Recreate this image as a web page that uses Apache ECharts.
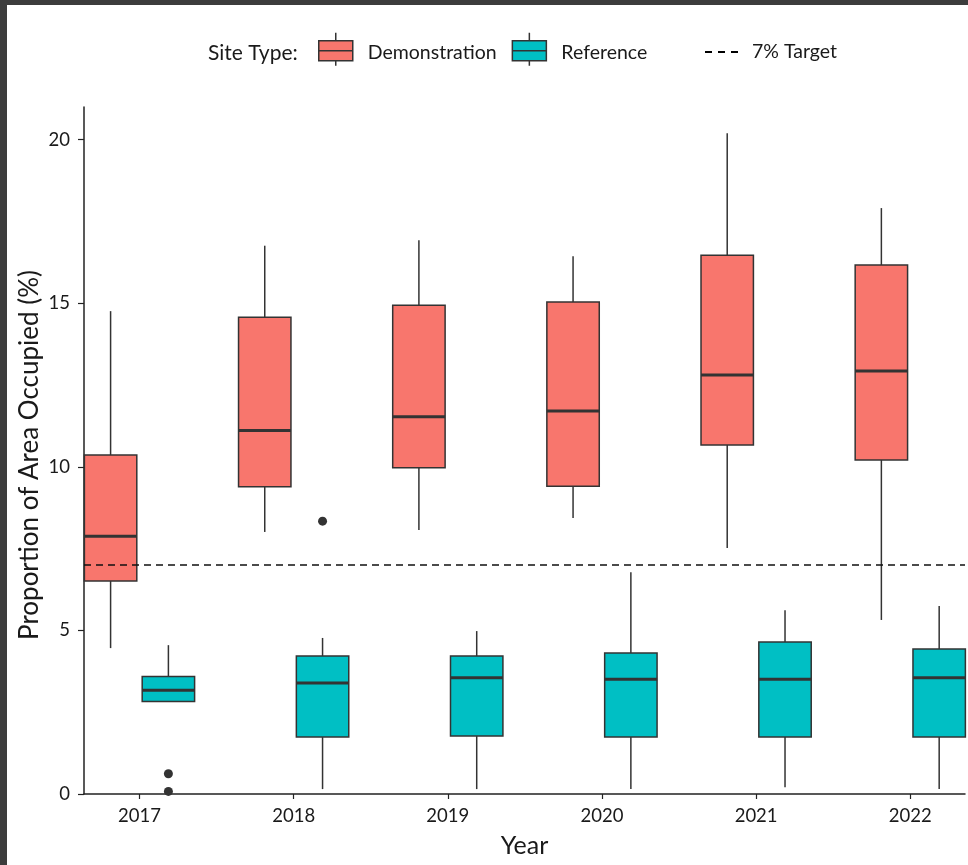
<!DOCTYPE html>
<html>
<head>
<meta charset="utf-8">
<script src="https://cdn.jsdelivr.net/npm/echarts@6/dist/echarts.min.js"></script>
<style>
  html, body { margin: 0; padding: 0; background: #ffffff; }
  #chart { width: 968px; height: 865px; }
</style>
</head>
<body>
<div id="chart"></div>
<script>
// Survey years (x axis categories)
const years = [2017, 2018, 2019, 2020, 2021, 2022];

// Box summaries per year: [lower whisker, Q1, median, Q3, upper whisker]
const demoLow    = [4.46, 8.01, 8.07, 8.44, 7.52, 5.32];
const demoQ1     = [6.51, 9.39, 9.97, 9.41, 10.67, 10.21];
const demoMedian = [7.88, 11.11, 11.53, 11.71, 12.81, 12.93];
const demoQ3     = [10.36, 14.57, 14.94, 15.04, 16.47, 16.17];
const demoHigh   = [14.76, 16.76, 16.93, 16.44, 20.20, 17.91];

const refLow    = [2.83, 0.15, 0.15, 0.15, 0.21, 0.15];
const refQ1     = [2.83, 1.74, 1.77, 1.74, 1.74, 1.74];
const refMedian = [3.17, 3.39, 3.55, 3.51, 3.51, 3.55];
const refQ3     = [3.59, 4.22, 4.22, 4.31, 4.65, 4.43];
const refHigh   = [4.55, 4.77, 4.98, 6.78, 5.62, 5.75];

// Outlying observations: [year, value]
const demoOutliers = [];
const refOutliers = [[2017, 0.62], [2017, 0.08], [2018, 8.34]];

// Target threshold (%)
const target = 7;

// Y axis tick labels
const yTicks = [0, 5, 10, 15, 20];

const DEMO_COLOR = '#F8766D';
const REF_COLOR = '#00BFC4';
const INK = '#333333';
const TEXT = '#1a1a1a';
const FONT = 'Lato, "Open Sans", sans-serif';
const DODGE = 0.1875;   // horizontal shift of each group from the year, in axis units
const BOX_W = 0.34;     // box width, in axis units

function buildRows(lo, q1, md, q3, hi) {
  return years.map((y, i) => [y, lo[i], q1[i], md[i], q3[i], hi[i]]);
}

function boxRenderer(offset, fill) {
  return function (params, api) {
    const x = api.value(0) + offset;
    const lo = api.coord([x, api.value(1)]);
    const q1 = api.coord([x, api.value(2)]);
    const md = api.coord([x, api.value(3)]);
    const q3 = api.coord([x, api.value(4)]);
    const hi = api.coord([x, api.value(5)]);
    const w = api.size([BOX_W, 0])[0];
    const cx = q1[0];
    const lineStyle = { stroke: INK, lineWidth: 1.5 };
    return {
      type: 'group',
      children: [
        { type: 'line', shape: { x1: cx, y1: hi[1], x2: cx, y2: q3[1] }, style: lineStyle },
        { type: 'line', shape: { x1: cx, y1: q1[1], x2: cx, y2: lo[1] }, style: lineStyle },
        { type: 'rect', shape: { x: cx - w / 2, y: q3[1], width: w, height: q1[1] - q3[1] },
          style: { fill: fill, stroke: INK, lineWidth: 1.5 } },
        { type: 'line', shape: { x1: cx - w / 2, y1: md[1], x2: cx + w / 2, y2: md[1] },
          style: { stroke: INK, lineWidth: 3 } }
      ]
    };
  };
}

function outlierRenderer(offset) {
  return function (params, api) {
    const p = api.coord([api.value(0) + offset, api.value(1)]);
    return { type: 'circle', shape: { cx: p[0], cy: p[1], r: 4.5 }, style: { fill: INK } };
  };
}

// Legend key glyph: whiskers, box and median; the trailing move-to pads the
// glyph's bounds downward so the label sits slightly below the key's centre.
const boxIcon = 'path://M17,0V8M0,8H34V28H0ZM0,18H34M17,28V33M17,39';
const dashIcon = 'path://M0,0H7V2H0ZM13,0H20V2H13ZM26,0H33V2H26Z';

const chart = echarts.init(document.getElementById('chart'), null, { renderer: 'canvas' });

chart.setOption({
  backgroundColor: '#ffffff',
  animation: false,
  textStyle: { fontFamily: FONT },
  graphic: [
    { type: 'rect', shape: { x: 0, y: 0, width: 968, height: 5 }, style: { fill: '#3c3c3c' }, z: 100 },
    { type: 'rect', shape: { x: 0, y: 0, width: 7, height: 865 }, style: { fill: '#3c3c3c' }, z: 100 },
    { type: 'text', x: 208, y: 53,
      style: { text: 'Site Type:', fontSize: 21, fontFamily: FONT, fill: TEXT, verticalAlign: 'middle' } },
    { type: 'text', x: 30, y: 455, rotation: Math.PI / 2,
      style: { text: 'Proportion of Area Occupied (%)', fontSize: 26, fontFamily: FONT, fill: TEXT,
               align: 'center', verticalAlign: 'middle' } }
  ],
  legend: [
    {
      left: 318, top: 32, padding: 0,
      itemWidth: 34, itemHeight: 39, itemGap: 15,
      textStyle: { fontSize: 19.5, color: TEXT, fontFamily: FONT, padding: [0, 0, 0, 10] },
      data: [
        { name: 'Demonstration', icon: boxIcon, itemStyle: { color: DEMO_COLOR, borderColor: INK, borderWidth: 1.5 } },
        { name: 'Reference', icon: boxIcon, itemStyle: { color: REF_COLOR, borderColor: INK, borderWidth: 1.5 } }
      ],
      selectedMode: false
    },
    {
      left: 705, top: 42, padding: 0,
      itemWidth: 33, itemHeight: 2,
      textStyle: { fontSize: 19.5, color: TEXT, fontFamily: FONT, padding: [0, 0, 0, 9] },
      data: [
        { name: '7% Target', icon: dashIcon, itemStyle: { color: '#000000', borderWidth: 0 } }
      ],
      selectedMode: false
    }
  ],
  grid: { left: 84, right: 3, top: 107, bottom: 71, containLabel: false },
  xAxis: {
    type: 'value',
    min: years[0] - 0.36,
    max: years[years.length - 1] + 0.355,
    name: 'Year',
    nameLocation: 'middle',
    nameGap: 39,
    nameTextStyle: { fontSize: 25, color: TEXT, fontFamily: FONT },
    axisLine: { show: true, lineStyle: { color: '#222', width: 1.5 } },
    axisTick: { show: true, length: 5, customValues: years, lineStyle: { color: '#222', width: 1.2 } },
    axisLabel: { customValues: years, formatter: v => String(v), fontSize: 18.5, color: TEXT, margin: 13 },
    splitLine: { show: false }
  },
  yAxis: {
    type: 'value',
    min: 0,
    max: 21,
    axisLine: { show: true, lineStyle: { color: '#222', width: 1.5 } },
    axisTick: { show: true, length: 6, customValues: yTicks, lineStyle: { color: '#222', width: 1.2 } },
    axisLabel: { customValues: yTicks, fontSize: 18.5, color: TEXT, margin: 14 },
    splitLine: { show: false }
  },
  series: [
    {
      name: '7% Target',
      type: 'line',
      data: [],
      itemStyle: { color: '#000' },
      markLine: {
        silent: true,
        symbol: 'none',
        label: { show: false },
        lineStyle: { color: '#111', type: [7, 5], width: 1.5 },
        data: [{ yAxis: target }]
      }
    },
    {
      name: 'Demonstration',
      type: 'custom',
      itemStyle: { color: DEMO_COLOR },
      encode: { x: 0, y: [1, 2, 3, 4, 5] },
      renderItem: boxRenderer(-DODGE, DEMO_COLOR),
      data: buildRows(demoLow, demoQ1, demoMedian, demoQ3, demoHigh),
      z: 3
    },
    {
      name: 'Reference',
      type: 'custom',
      itemStyle: { color: REF_COLOR },
      encode: { x: 0, y: [1, 2, 3, 4, 5] },
      renderItem: boxRenderer(DODGE, REF_COLOR),
      data: buildRows(refLow, refQ1, refMedian, refQ3, refHigh),
      z: 3
    },
    {
      name: 'Demonstration outliers',
      type: 'custom',
      encode: { x: 0, y: 1 },
      renderItem: outlierRenderer(-DODGE),
      data: demoOutliers,
      z: 4
    },
    {
      name: 'Reference outliers',
      type: 'custom',
      encode: { x: 0, y: 1 },
      renderItem: outlierRenderer(DODGE),
      data: refOutliers,
      z: 4
    }
  ]
});
</script>
</body>
</html>
